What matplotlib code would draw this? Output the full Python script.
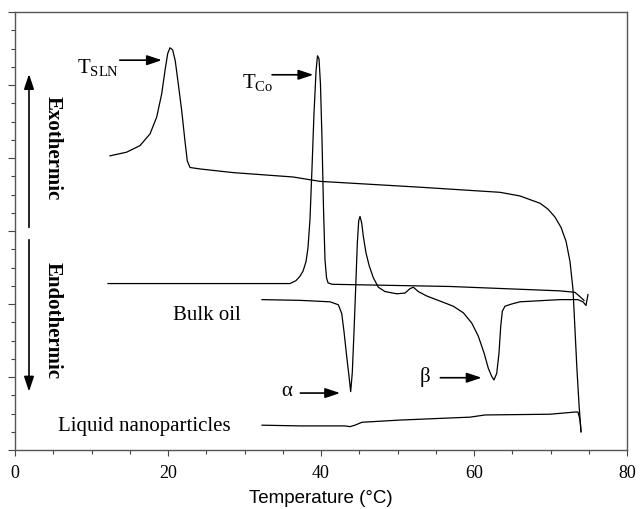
import matplotlib
matplotlib.use("Agg")
import matplotlib.pyplot as plt
from matplotlib.ticker import MultipleLocator

plt.rcParams['mathtext.fontset'] = 'custom'
plt.rcParams['mathtext.rm'] = 'Liberation Serif'
plt.rcParams['mathtext.it'] = 'Liberation Serif:italic'

# ---- data (temperature in °C, heat flow in arbitrary units) ----
sln_T = [12.42, 14.60, 16.34, 17.65, 18.52, 19.18, 19.61, 19.96, 20.26, 20.61, 20.95,
         21.35, 21.79, 22.22, 22.52, 22.88, 24.18, 28.50, 36.34, 39.87, 52.94, 63.40,
         66.01, 67.32, 68.63, 69.67, 70.59, 71.37, 72.03, 72.55, 72.94, 73.20, 73.46,
         73.73, 73.99]
sln_H = [4.03, 4.08, 4.17, 4.33, 4.56, 4.88, 5.20, 5.43, 5.51, 5.48, 5.33,
         5.01, 4.65, 4.23, 3.96, 3.87, 3.85, 3.80, 3.74, 3.68, 3.60, 3.53,
         3.48, 3.43, 3.38, 3.30, 3.19, 3.05, 2.86, 2.58, 2.20, 1.65, 1.10,
         0.62, 0.25]

cool_T = [12.16, 35.95, 36.73, 37.25, 37.65, 38.04, 38.30, 38.56, 38.82, 39.08, 39.35,
          39.54, 39.74, 39.93, 40.13, 40.33, 40.52, 40.72, 40.92, 41.44, 56.86, 71.24,
          73.20, 73.86, 74.38]
cool_H = [2.28, 2.28, 2.32, 2.38, 2.45, 2.58, 2.77, 3.16, 3.85, 4.60, 5.19,
          5.40, 5.36, 5.01, 4.26, 3.30, 2.61, 2.36, 2.29, 2.27, 2.24, 2.18,
          2.16, 2.10, 2.05]

heat_T = [32.29, 37.25, 41.18, 42.26, 42.71, 43.01, 43.36, 43.66, 43.88, 44.09, 44.31,
          44.54, 44.75, 44.93, 45.10, 45.32, 45.53, 45.88, 46.31, 46.84, 47.49, 48.37,
          49.90, 50.98, 51.63, 52.07, 52.72, 53.82, 55.56, 57.29, 58.60, 59.70, 60.56,
          61.31, 61.87, 62.31, 62.61, 62.97, 63.27, 63.49, 63.70, 64.05, 64.93, 66.01,
          71.24, 73.59, 74.25, 74.64, 74.90]
heat_H = [2.06, 2.05, 2.03, 1.99, 1.87, 1.62, 1.28, 1.01, 0.80, 1.06, 1.61,
          2.24, 2.84, 3.14, 3.20, 3.11, 2.93, 2.70, 2.52, 2.36, 2.23, 2.17,
          2.14, 2.15, 2.21, 2.23, 2.17, 2.11, 2.04, 1.97, 1.88, 1.74, 1.56,
          1.33, 1.12, 1.01, 0.96, 1.05, 1.33, 1.69, 1.90, 1.97, 2.00, 2.03,
          2.06, 2.06, 2.03, 1.98, 2.13]

lnp_T = [32.29, 37.25, 43.14, 43.79, 44.44, 45.36, 50.33, 59.48, 61.44, 69.93, 73.20,
         73.59, 73.86, 73.99]
lnp_H = [0.34, 0.33, 0.33, 0.32, 0.34, 0.38, 0.41, 0.45, 0.48, 0.49, 0.52,
         0.52, 0.41, 0.25]

x_ticks = [0, 20, 40, 60, 80]
x_label = "Temperature (°C)"

# ---- figure ----
fig = plt.figure(figsize=(6.4, 5.1), dpi=100)
ax = fig.add_axes([15/640, 1 - 451/510, 612/640, 438/510])

lw = 0.9
for T, H in [(sln_T, sln_H), (cool_T, cool_H), (heat_T, heat_H), (lnp_T, lnp_H)]:
    ax.plot(T, H, color='black', lw=lw)

ax.set_xlim(0, 80)
ax.set_ylim(0, 6)
ax.set_xticks(x_ticks)
ax.set_xticklabels([str(v) for v in x_ticks], family='Liberation Serif', fontsize=13)
ax.xaxis.set_minor_locator(MultipleLocator(5))
ax.yaxis.set_major_locator(MultipleLocator(1))
ax.yaxis.set_minor_locator(MultipleLocator(0.25))
ax.set_yticklabels([])
ax.tick_params(axis='x', which='major', length=4, width=0.8, color='#444444', pad=6)
ax.tick_params(axis='x', which='minor', length=3, width=0.8, color='#444444')
ax.tick_params(axis='y', which='major', length=5, width=0.8, color='#444444')
ax.tick_params(axis='y', which='minor', length=3, width=0.8, color='#444444')
for s in ax.spines.values():
    s.set_color('#555555')
    s.set_linewidth(1.0)
ax.set_xlabel(x_label, family='Liberation Sans', fontsize=13.5, labelpad=6)

serif = 'Liberation Serif'
arrow = dict(arrowstyle='-|>,head_length=0.9,head_width=0.3', color='black', lw=1.2,
             shrinkA=0, shrinkB=0)

# peak labels with arrows
ax.text(8.1, 5.26, r'$\mathrm{T_{SLN}}$', fontsize=15, va='center', ha='left')
ax.annotate('', xy=(19.2, 5.34), xytext=(13.7, 5.34), arrowprops=arrow)
ax.text(29.7, 5.05, r'$\mathrm{T_{Co}}$', fontsize=15, va='center', ha='left')
ax.annotate('', xy=(39.0, 5.14), xytext=(33.6, 5.14), arrowprops=arrow)
ax.text(35.5, 0.82, 'α', family=serif, fontsize=15, va='center', ha='center')
ax.annotate('', xy=(42.5, 0.78), xytext=(37.3, 0.78), arrowprops=arrow)
ax.text(53.6, 1.02, 'β', family=serif, fontsize=15, va='center', ha='center')
ax.annotate('', xy=(61.0, 0.99), xytext=(55.6, 0.99), arrowprops=arrow)

ax.text(20.65, 1.85, 'Bulk oil', family=serif, fontsize=15, va='center', ha='left')
ax.text(5.62, 0.34, 'Liquid nanoparticles', family=serif, fontsize=15, va='center', ha='left')

# exo / endo indicators
ax.text(4.97, 4.15, 'Exothermic', family=serif, fontsize=15, fontweight='bold',
        rotation=-90, va='center', ha='center')
ax.text(4.97, 1.79, 'Endothermic', family=serif, fontsize=15, fontweight='bold',
        rotation=-90, va='center', ha='center')
ax.annotate('', xy=(1.83, 5.15), xytext=(1.83, 3.05), arrowprops=arrow)
ax.annotate('', xy=(1.83, 0.80), xytext=(1.83, 2.88), arrowprops=arrow)

fig.savefig('out.png', dpi=100)
